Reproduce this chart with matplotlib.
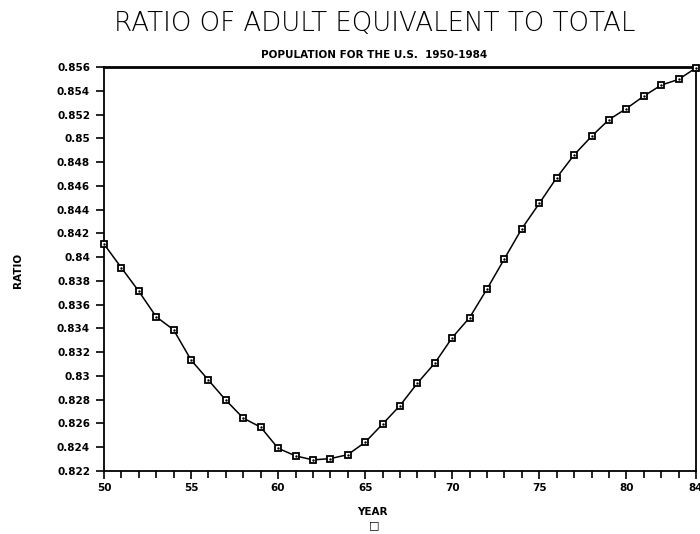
import matplotlib
matplotlib.use("Agg")
import matplotlib.pyplot as plt
from matplotlib.ticker import MultipleLocator, FixedLocator

years = list(range(50, 85))
ratio = [0.84110, 0.83910, 0.83712, 0.83497, 0.83387, 0.83133, 0.82963, 0.82794,
         0.82643, 0.82567, 0.82389, 0.82325, 0.82291, 0.82302, 0.82335, 0.82440,
         0.82593, 0.82749, 0.82938, 0.83107, 0.83322, 0.83491, 0.83732, 0.83987,
         0.84241, 0.84453, 0.84670, 0.84862, 0.85018, 0.85159, 0.85252, 0.85357,
         0.85450, 0.85498, 0.85595]

ytick_vals = [0.822, 0.824, 0.826, 0.828, 0.830, 0.832, 0.834, 0.836, 0.838,
              0.840, 0.842, 0.844, 0.846, 0.848, 0.850, 0.852, 0.854, 0.856]
ytick_labels = ["0.822", "0.824", "0.826", "0.828", "0.83", "0.832", "0.834", "0.836",
                "0.838", "0.84", "0.842", "0.844", "0.846", "0.848", "0.85", "0.852",
                "0.854", "0.856"]
xtick_vals = [50, 55, 60, 65, 70, 75, 80, 84]
xtick_labels = ["50", "55", "60", "65", "70", "75", "80", "84"]

fig = plt.figure(figsize=(7.0, 5.34), dpi=100)
ax = fig.add_axes([104/700, 1 - 470.7/534, (696 - 104)/700, (470.7 - 67.3)/534])

ax.plot(years, ratio, color="black", linewidth=1.1, marker="s", markersize=5,
        markerfacecolor="white", markeredgecolor="black", markeredgewidth=1.3,
        clip_on=False, zorder=3)
ax.plot(years, ratio, linestyle="none", marker=".", markersize=1.5, color="black",
        clip_on=False, zorder=4)

ax.set_xlim(50, 84)
ax.set_ylim(0.822, 0.856)
ax.xaxis.set_major_locator(FixedLocator(xtick_vals))
ax.set_xticklabels(xtick_labels, fontsize=7.5, fontweight="bold")
ax.xaxis.set_minor_locator(MultipleLocator(1))
ax.yaxis.set_major_locator(FixedLocator(ytick_vals))
ax.set_yticklabels(ytick_labels, fontsize=7.5, fontweight="bold")
ax.tick_params(axis="both", which="both", direction="out", width=1.2, color="black")
ax.tick_params(axis="x", which="major", length=6, pad=3)
ax.tick_params(axis="x", which="minor", length=5)
ax.tick_params(axis="y", which="major", length=6, pad=4)

for side in ["left", "bottom", "right"]:
    ax.spines[side].set_linewidth(1.3)
ax.spines["top"].set_linewidth(2.0)

ax.set_xlabel("YEAR", fontsize=7.5, fontweight="bold")
ax.set_ylabel("RATIO", fontsize=7.5, fontweight="bold")
ax.xaxis.set_label_coords((372 - 104) / 592, -(512 - 470.7) / 403.4)
ax.yaxis.set_label_coords(-(104 - 18) / 592, (470.7 - 270) / 403.4)
ax.xaxis.label.set_va("center")
ax.yaxis.label.set_va("center")

fig.text(375/700, 1 - 23/534, "RATIO OF ADULT EQUIVALENT TO TOTAL", ha="center",
         va="center", fontsize=18.8, fontweight="light", family="DejaVu Sans")
fig.text(374/700, 1 - 55/534, "POPULATION FOR THE U.S.  1950-1984", ha="center",
         va="center", fontsize=7.5, fontweight="bold")
fig.text(374/700, 1 - 525/534, "\u25a1", ha="center", va="center", fontsize=8)

fig.savefig("out.png", dpi=100)
